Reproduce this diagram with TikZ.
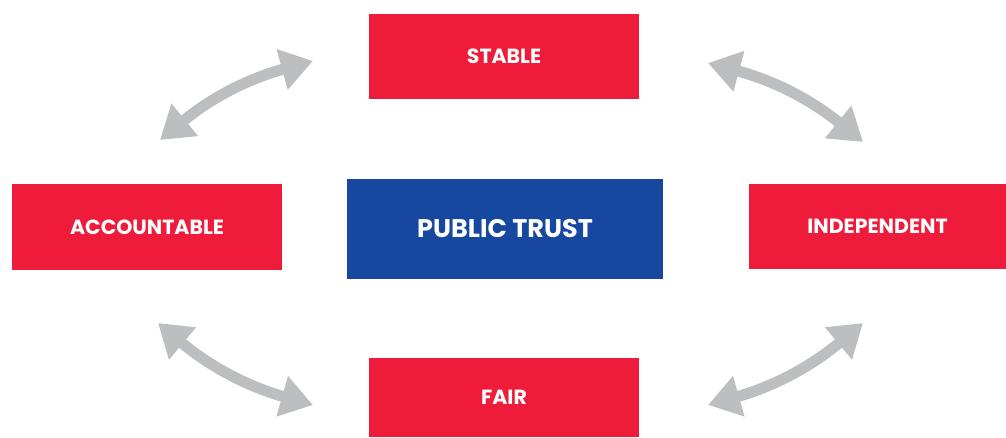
\documentclass[tikz,border=0pt]{standalone}
\usepackage{fontspec}
\setmainfont{Poppins}
\usepackage{tikz}
\usetikzlibrary{arrows.meta}

\definecolor{boxred}{HTML}{EE1C3A}
\definecolor{trustblue}{HTML}{15489E}
\definecolor{linkgray}{HTML}{BDBEC0}

\tikzset{
  valuebox/.style={fill=boxred, text=white, inner sep=0pt,
    font=\fontsize{20.5}{22}\selectfont\bfseries},
  trustbox/.style={fill=trustblue, text=white, inner sep=0pt,
    font=\fontsize{25.5}{28}\selectfont\bfseries},
  link/.style={draw=linkgray, line width=11pt,
    {Triangle[length=32pt, width=40pt]}-{Triangle[length=32pt, width=40pt]}}
}

\begin{document}
\begin{tikzpicture}[x=1pt, y=1pt]
                    \useasboundingbox (0,0) rectangle (1006,-437);
                    \node[valuebox, minimum width=270pt, minimum height=85pt] (stable) at (504,-56.5) {STABLE};
                    \node[valuebox, minimum width=270pt, minimum height=86pt] (accountable) at (147,-227) {ACCOUNTABLE};
                    \node[trustbox, minimum width=316pt, minimum height=100pt] (trust) at (505,-229) {PUBLIC TRUST};
                    \node[valuebox, minimum width=257pt, minimum height=85pt] (independent) at (877.5,-226.5) {INDEPENDENT};
                    \node[valuebox, minimum width=270pt, minimum height=79pt] (fair) at (504,-397.5) {FAIR};
                    \coordinate (tl1) at (160,-140);
                    \coordinate (tl2) at (313,-61);
                    \coordinate (tr1) at (708,-63);
                    \coordinate (tr2) at (863,-142);
                    \coordinate (bl1) at (158,-323);
                    \coordinate (bl2) at (313,-405);
                    \coordinate (br1) at (708,-405);
                    \coordinate (br2) at (863,-323);
                    \draw[link] (tl1) to[bend left=12] (tl2);
                    \draw[link] (tr1) to[bend left=12] (tr2);
                    \draw[link] (bl1) to[bend right=12] (bl2);
                    \draw[link] (br1) to[bend right=12] (br2);
                \end{tikzpicture}
\end{document}
